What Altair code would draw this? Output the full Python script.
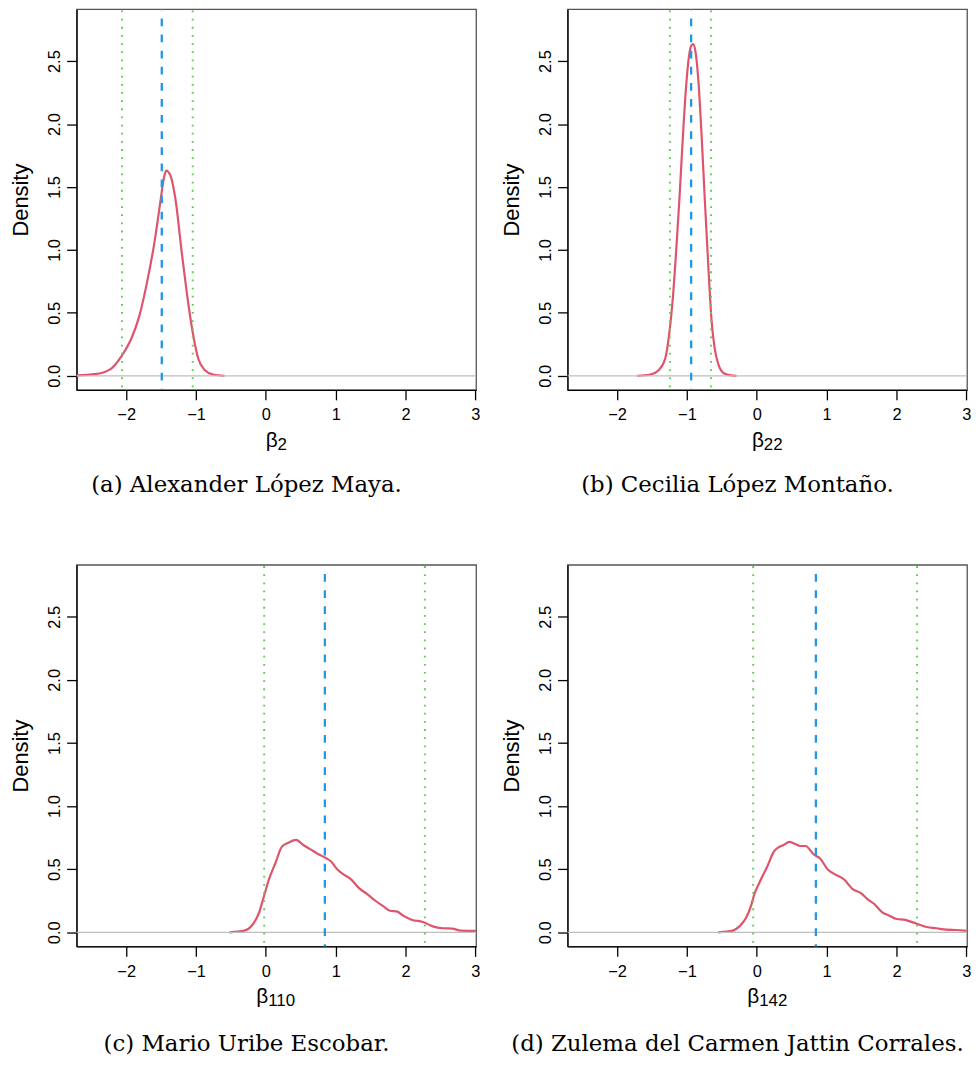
import altair as alt
import pandas as pd

# ---------------- data ----------------
X_DOMAIN = [-2.71, 3.01]
Y_DOMAIN = [-0.112, 2.912]
X_TICKS = [-2, -1, 0, 1, 2, 3]
Y_TICKS = [0.0, 0.5, 1.0, 1.5, 2.0, 2.5]

CAPTIONS = [
    "(a) Alexander López Maya.",
    "(b) Cecilia López Montaño.",
    "(c) Mario Uribe Escobar.",
    "(d) Zulema del Carmen Jattin Corrales.",
]
SUBSCRIPTS = ["2", "22", "110", "142"]
MEANS = [-1.49, -0.94, 0.845, 0.846]
LOWER = [-2.06, -1.244, -0.024, -0.052]
UPPER = [-1.047, -0.656, 2.277, 2.295]

a_x = [-2.71, -2.446, -2.235, -2.061, -1.93, -1.812, -1.695, -1.592, -1.516, -1.46,
       -1.427, -1.366, -1.296, -1.202, -1.131, -1.047, -0.967, -0.873, -0.756, -0.592]
a_y = [0.004, 0.013, 0.049, 0.161, 0.29, 0.474, 0.76, 1.07, 1.36, 1.57,
       1.63, 1.59, 1.41, 0.97, 0.656, 0.344, 0.135, 0.044, 0.010, 0.0]

b_x = [-1.711, -1.523, -1.406, -1.312, -1.251, -1.204, -1.157, -1.11, -1.063, -1.016,
       -0.973, -0.94, -0.912, -0.879, -0.837, -0.79, -0.743, -0.696, -0.649, -0.602,
       -0.545, -0.465, -0.371, -0.291]
b_y = [0.0, 0.01, 0.044, 0.135, 0.344, 0.604, 0.969, 1.385, 1.854, 2.27,
       2.53, 2.62, 2.635, 2.58, 2.35, 1.906, 1.385, 0.89, 0.448, 0.214,
       0.083, 0.018, 0.003, 0.0]

c_x = [-0.521, -0.31, -0.192, -0.099, -0.028, 0.042, 0.136, 0.23, 0.324, 0.432,
       0.535, 0.653, 0.746, 0.864, 0.934, 1.028, 1.122, 1.216, 1.333, 1.451,
       1.568, 1.685, 1.779, 1.873, 1.967, 2.085, 2.249, 2.39, 2.531, 2.671,
       2.789, 3.01]
c_y = [0.0, 0.013, 0.06, 0.153, 0.284, 0.416, 0.547, 0.679, 0.71, 0.732,
       0.692, 0.653, 0.621, 0.587, 0.561, 0.495, 0.455, 0.421, 0.35, 0.303,
       0.25, 0.205, 0.171, 0.166, 0.132, 0.1, 0.082, 0.047, 0.032, 0.029,
       0.013, 0.011]

d_x = [-0.555, -0.343, -0.249, -0.155, -0.085, -0.038, 0.033, 0.15, 0.244, 0.315,
       0.386, 0.465, 0.55, 0.621, 0.701, 0.762, 0.809, 0.903, 1.02, 1.114,
       1.255, 1.373, 1.49, 1.584, 1.678, 1.796, 1.89, 2.007, 2.102, 2.29,
       2.431, 2.572, 2.713, 2.854, 3.004]
d_y = [0.0, 0.013, 0.047, 0.113, 0.205, 0.297, 0.389, 0.521, 0.639, 0.674,
       0.692, 0.716, 0.7, 0.684, 0.684, 0.653, 0.621, 0.587, 0.495, 0.461,
       0.416, 0.342, 0.311, 0.263, 0.226, 0.158, 0.134, 0.105, 0.1, 0.068,
       0.042, 0.032, 0.021, 0.018, 0.011]

CURVE_X = [a_x, b_x, c_x, d_x]
CURVE_Y = [a_y, b_y, c_y, d_y]

# ---------------- styling ----------------
RED = "#DF536B"
BLUE = "#2297E6"
GREEN = "#61D04F"
SANS = "Liberation Sans"
SERIF = "DejaVu Serif"
W = 402


def make_panel(i, H, cap_offset):
    xsc = alt.Scale(domain=X_DOMAIN, nice=False, zero=False)
    ysc = alt.Scale(domain=Y_DOMAIN, nice=False, zero=False)
    xaxis = alt.Axis(values=X_TICKS, format="d", title=None, grid=False,
                     tickSize=10, labelPadding=7, labelFlush=False,
                     labelOverlap=False, labelFontSize=16.5)
    yaxis = alt.Axis(values=Y_TICKS, format=".1f", title="Density", grid=False,
                     tickSize=10, labelPadding=7, labelAngle=270,
                     labelAlign="center", labelBaseline="alphabetic",
                     labelFlush=False, labelOverlap=False, labelFontSize=16.5,
                     titleAngle=270, titleAlign="center",
                     titleBaseline="alphabetic", titleX=-49.6, titleY=H / 2,
                     titleFontSize=22, titleFontWeight="normal")

    curve_df = pd.DataFrame({"x": CURVE_X[i], "y": CURVE_Y[i]})
    curve = alt.Chart(curve_df).mark_line(
        color=RED, strokeWidth=2.2, clip=True, interpolate="monotone"
    ).encode(x=alt.X("x:Q", scale=xsc, axis=xaxis),
             y=alt.Y("y:Q", scale=ysc, axis=yaxis))

    zero = alt.Chart(pd.DataFrame({"y": [0.0]})).mark_rule(
        color="#BEBEBE", strokeWidth=1.2
    ).encode(y=alt.Y("y:Q", scale=ysc, axis=yaxis))

    mean = alt.Chart(pd.DataFrame({"x": [MEANS[i]]})).mark_rule(
        color=BLUE, strokeWidth=2.3, strokeDash=[7.8, 8.4], strokeDashOffset=6.9
    ).encode(x=alt.X("x:Q", scale=xsc, axis=xaxis))

    ci = alt.Chart(pd.DataFrame({"x": [LOWER[i], UPPER[i]]})).mark_rule(
        color=GREEN, strokeWidth=2, strokeDash=[1.8, 6.4], strokeDashOffset=6.9
    ).encode(x=alt.X("x:Q", scale=xsc, axis=xaxis))

    beta_fs, sub_fs = 21, 17
    beta_w = 0.574 * beta_fs
    total = beta_w + 0.556 * sub_fs * len(SUBSCRIPTS[i])
    x0 = W / 2 - total / 2

    beta = alt.Chart(pd.DataFrame({"t": ["β"]})).mark_text(
        align="left", baseline="alphabetic", font=SANS, fontSize=beta_fs, color="black"
    ).encode(text="t:N", x=alt.value(x0), y=alt.value(H + 57))

    sub = alt.Chart(pd.DataFrame({"t": [SUBSCRIPTS[i]]})).mark_text(
        align="left", baseline="alphabetic", font=SANS, fontSize=sub_fs, color="black"
    ).encode(text="t:N", x=alt.value(x0 + beta_w), y=alt.value(H + 60))

    cap = alt.Chart(pd.DataFrame({"t": [CAPTIONS[i]]})).mark_text(
        align="center", baseline="alphabetic", font=SERIF, fontSize=23, color="black"
    ).encode(text="t:N", x=alt.value(W / 2 - 30), y=alt.value(H + cap_offset))

    return alt.layer(curve, zero, mean, ci, beta, sub, cap).properties(width=W, height=H)


row1 = alt.hconcat(make_panel(0, 383, 102.5), make_panel(1, 383, 102.5), spacing=18)
row2 = alt.hconcat(make_panel(2, 384, 105.5), make_panel(3, 384, 105.5), spacing=18)

chart = alt.vconcat(row1, row2, spacing=65).properties(
    padding={"top": -4, "left": 0, "right": 0, "bottom": 0}
).configure_view(
    stroke="#555555", strokeWidth=1.3
).configure_axis(
    domainColor="black", domainWidth=1.3, tickColor="black", tickWidth=1.3,
    labelColor="black", titleColor="black", labelFont=SANS, titleFont=SANS
)

chart.save("out.html", embed_options={"renderer": "svg", "actions": False})
